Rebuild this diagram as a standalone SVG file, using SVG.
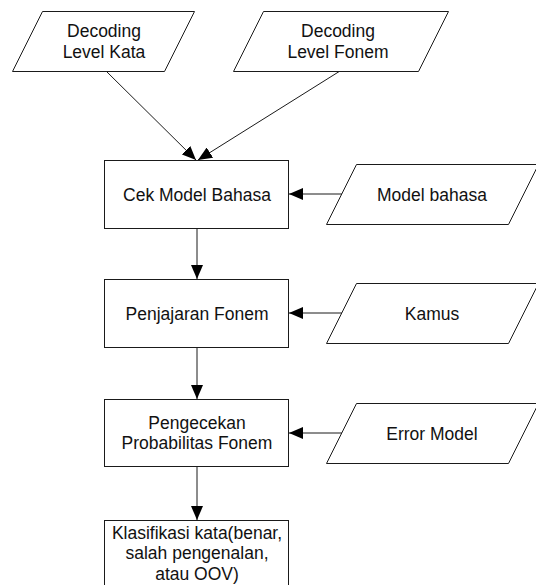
<svg xmlns="http://www.w3.org/2000/svg" width="536" height="585" viewBox="0 0 536 585">
  <style>
    .shape { fill: #ffffff; stroke: #1a1a1a; stroke-width: 1; }
    .conn { fill: none; stroke: #1a1a1a; stroke-width: 1; }
    text { font-family: "Liberation Sans", Arial, sans-serif; font-size: 17.5px; fill: #111111; text-anchor: middle; }
  </style>
  <defs>
    <marker id="arrow" markerUnits="userSpaceOnUse" markerWidth="15" markerHeight="12" refX="14" refY="6" orient="auto">
      <path d="M0,0 L14,6 L0,12 Z" fill="#000000"/>
    </marker>
  </defs>
  <rect width="536" height="585" fill="#ffffff"/>

  <g id="connectors">
    <line class="conn" x1="106" y1="71" x2="196" y2="160" marker-end="url(#arrow)"/>
    <line class="conn" x1="340" y1="71" x2="198" y2="160" marker-end="url(#arrow)"/>
    <line class="conn" x1="342" y1="194" x2="289" y2="194" marker-end="url(#arrow)"/>
    <line class="conn" x1="197" y1="228" x2="197" y2="279" marker-end="url(#arrow)"/>
    <line class="conn" x1="342" y1="313" x2="289" y2="313" marker-end="url(#arrow)"/>
    <line class="conn" x1="197" y1="347" x2="197" y2="399" marker-end="url(#arrow)"/>
    <line class="conn" x1="342" y1="433" x2="289" y2="433" marker-end="url(#arrow)"/>
    <line class="conn" x1="197" y1="467" x2="197" y2="520" marker-end="url(#arrow)"/>
  </g>

  <g id="decoding-kata">
    <polygon class="shape" points="42.5,11.5 194.5,11.5 164.5,71.5 12.5,71.5"/>
    <text x="104" y="37">Decoding</text>
    <text x="104" y="58">Level Kata</text>
  </g>

  <g id="decoding-fonem">
    <polygon class="shape" points="263.5,11.5 448.5,11.5 418.5,71.5 233.5,71.5"/>
    <text x="338" y="37">Decoding</text>
    <text x="338" y="58">Level Fonem</text>
  </g>

  <g id="cek-model-bahasa">
    <rect class="shape" x="104.5" y="160.5" width="184" height="68"/>
    <text x="197" y="200.5">Cek Model Bahasa</text>
  </g>

  <g id="model-bahasa">
    <polygon class="shape" points="356.5,164.5 538.5,164.5 508.5,224.5 326.5,224.5"/>
    <text x="432" y="200.5">Model bahasa</text>
  </g>

  <g id="penjajaran-fonem">
    <rect class="shape" x="104.5" y="279.5" width="184" height="68"/>
    <text x="197" y="319.5">Penjajaran Fonem</text>
  </g>

  <g id="kamus">
    <polygon class="shape" points="356.5,283.5 538.5,283.5 508.5,343.5 326.5,343.5"/>
    <text x="432" y="319.5">Kamus</text>
  </g>

  <g id="pengecekan">
    <rect class="shape" x="104.5" y="399.5" width="184" height="67"/>
    <text x="197" y="428.5">Pengecekan</text>
    <text x="197" y="449">Probabilitas Fonem</text>
  </g>

  <g id="error-model">
    <polygon class="shape" points="356.5,403.5 538.5,403.5 508.5,463.5 326.5,463.5"/>
    <text x="432" y="439.5">Error Model</text>
  </g>

  <g id="klasifikasi">
    <rect class="shape" x="104.5" y="520.5" width="184" height="80"/>
    <text x="197" y="538.5">Klasifikasi kata(benar,</text>
    <text x="197" y="559">salah pengenalan,</text>
    <text x="197" y="579.5">atau OOV)</text>
  </g>
</svg>
